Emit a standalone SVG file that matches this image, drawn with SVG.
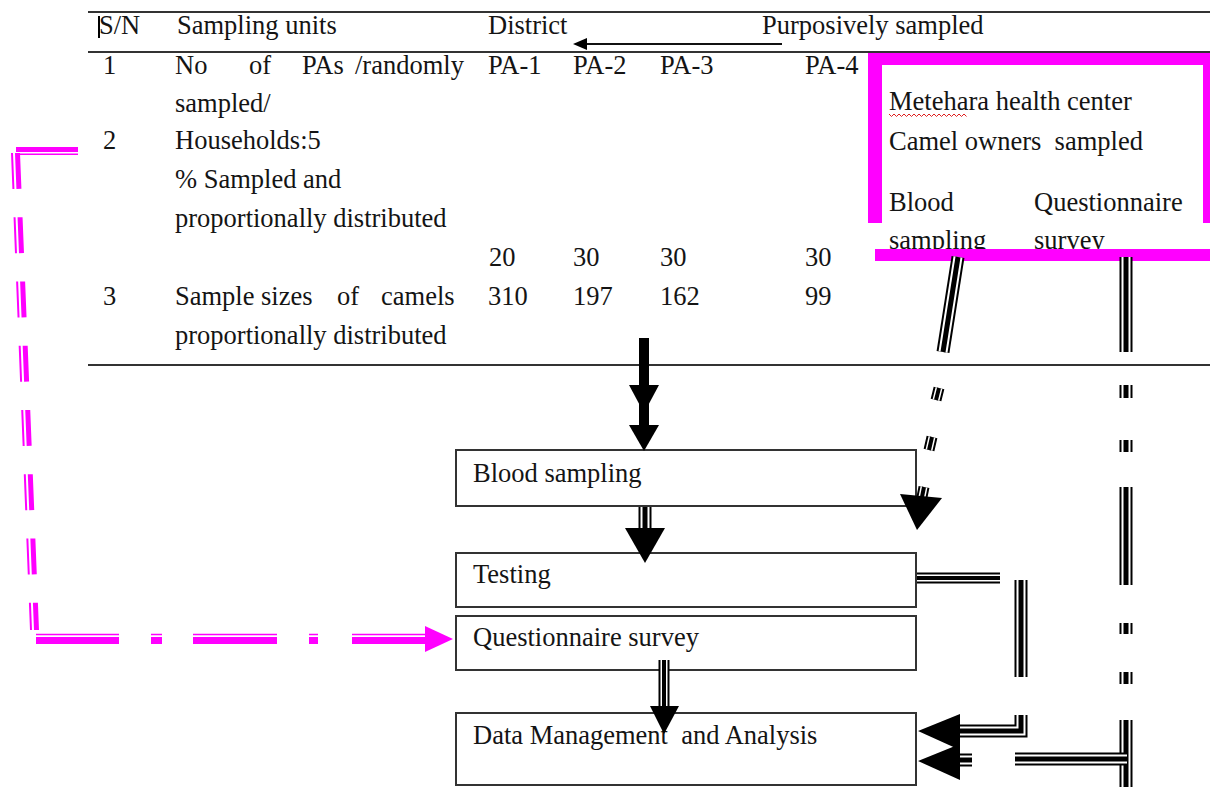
<svg xmlns="http://www.w3.org/2000/svg" width="1210" height="787" viewBox="0 0 1210 787">
<style>
text{font-family:"Liberation Serif","Times New Roman",serif;font-size:26.5px;fill:#141414}
.rule{stroke:#333;stroke-width:2;fill:none}
.box{fill:#fff;stroke:#333;stroke-width:2}
.mg{fill:#ff00ff}
.mgs{fill:none;stroke:#ff00ff}
.tA{fill:none;stroke:#000;stroke-width:13}
.tB{fill:none;stroke:#fff;stroke-width:9}
.tC{fill:none;stroke:#000;stroke-width:5}
.sA{fill:none;stroke:#000;stroke-width:11}
.sB{fill:none;stroke:#fff;stroke-width:7}
.sC{fill:none;stroke:#000;stroke-width:4}
.head{fill:#000}
</style>
<defs>
<path id="cRight" d="M1126 257V352M1126 385V398M1126 440V452M1126 487V585M1126 623V634M1126 672V684M1126 720V787"/>
<path id="cSlant" d="M958 257L943 352"/>
<path id="cSlantDash" d="M939 388L936 400M932 437L929 450M924 487L922 497"/>
<path id="cTest" d="M917 578H1000"/>
<path id="cTestV" d="M1021 580V677"/>
<path id="cTestCorner" d="M1021 715V731H955"/>
<path id="cStub" d="M955 760H972"/>
<path id="cLong" d="M1015 759H1127"/>
<path id="cBT" d="M645 507V532"/>
<path id="cQD" d="M664 660V709"/>
</defs>

<g id="table">
<line class="rule" x1="88" y1="12" x2="1210" y2="12"/>
<line class="rule" x1="88" y1="52" x2="1210" y2="52"/>
<line class="rule" x1="88" y1="365" x2="1210" y2="365"/>
<line x1="99" y1="16" x2="99" y2="38" stroke="#000" stroke-width="2"/>
<text x="99" y="34">S/N</text>
<text x="177" y="34">Sampling units</text>
<text x="488" y="34">District</text>
<text x="762" y="34">Purposively sampled</text>
<text x="103" y="74">1</text>
<text y="74"><tspan x="175">No </tspan><tspan x="249">of </tspan><tspan x="302">PAs </tspan><tspan x="355">/randomly</tspan></text>
<text x="175" y="112">sampled/</text>
<text x="488" y="74">PA-1</text>
<text x="573" y="74">PA-2</text>
<text x="660" y="74">PA-3</text>
<text x="805" y="74">PA-4</text>
<text x="103" y="149">2</text>
<text x="175" y="149">Households:5</text>
<text x="175" y="188">% Sampled and</text>
<text x="175" y="227">proportionally distributed</text>
<text x="489" y="266">20</text>
<text x="573" y="266">30</text>
<text x="660" y="266">30</text>
<text x="805" y="266">30</text>
<text x="103" y="305">3</text>
<text y="305"><tspan x="175">Sample </tspan><tspan x="261">sizes </tspan><tspan x="337">of </tspan><tspan x="381">camels</tspan></text>
<text x="488" y="305">310</text>
<text x="573" y="305">197</text>
<text x="660" y="305">162</text>
<text x="805" y="305">99</text>
<text x="175" y="344">proportionally distributed</text>
</g>

<g id="metehara">
<text x="889" y="110">Metehara health center</text>
<path d="M889 114l2.5 2.5 2.5-2.5 2.5 2.5 2.5-2.5 2.5 2.5 2.5-2.5 2.5 2.5 2.5-2.5 2.5 2.5 2.5-2.5 2.5 2.5 2.5-2.5 2.5 2.5 2.5-2.5 2.5 2.5 2.5-2.5 2.5 2.5 2.5-2.5 2.5 2.5 2.5-2.5 2.5 2.5 2.5-2.5 2.5 2.5 2.5-2.5 2.5 2.5 2.5-2.5 2.5 2.5 2.5-2.5 2.5 2.5 2.5-2.5 2.5 2.5" fill="none" stroke="#e02020" stroke-width="1"/>
<text x="889" y="150" xml:space="preserve">Camel owners  sampled</text>
<text x="889" y="211">Blood</text>
<text x="1034" y="211">Questionnaire</text>
<text x="889" y="249">sampling</text>
<text x="1034" y="249">survey</text>
<rect class="mg" x="868" y="53" width="342" height="12"/>
<rect class="mg" x="868" y="53" width="14" height="170"/>
<rect class="mg" x="1203" y="53" width="7" height="170"/>
<rect class="mg" x="875" y="249" width="335" height="12"/>
</g>

<g id="blood-sampling">
<rect class="box" x="456" y="450" width="460" height="56"/>
<text x="473" y="482">Blood sampling</text>
</g>
<g id="testing">
<rect class="box" x="456" y="553" width="460" height="54"/>
<text x="473" y="583">Testing</text>
</g>
<g id="questionnaire-survey">
<rect class="box" x="456" y="616" width="460" height="54"/>
<text x="473" y="646">Questionnaire survey</text>
</g>
<g id="data-management">
<rect class="box" x="456" y="713" width="460" height="72"/>
<text x="473" y="744" xml:space="preserve">Data Management  and Analysis</text>
</g>

<g id="connectors">
<line x1="782" y1="44" x2="585" y2="44" stroke="#111" stroke-width="2"/>
<polygon class="head" points="573,44 587,38 587,50"/>
<rect x="639" y="338" width="10" height="95" fill="#000"/>
<polygon class="head" points="629,385 659,385 644,413"/>
<polygon class="head" points="629,425 659,425 644,451"/>
<use href="#cBT" class="tA"/><use href="#cBT" class="tB"/><use href="#cBT" class="tC"/>
<polygon class="head" points="625,528 665,528 645,563"/>
<use href="#cQD" class="sA"/><use href="#cQD" class="sB"/><use href="#cQD" class="sC"/>
<polygon class="head" points="650,706 679,706 664,734"/>
<use href="#cRight" class="tA"/><use href="#cRight" class="tB"/><use href="#cRight" class="tC"/>
<use href="#cSlant" class="tA"/><use href="#cSlant" class="tB"/><use href="#cSlant" class="tC"/>
<use href="#cSlantDash" class="sA"/><use href="#cSlantDash" class="sB"/><use href="#cSlantDash" class="sC"/>
<polygon class="head" points="900,494 942,498 917,530"/>
<use href="#cTest" class="sA"/><use href="#cTest" class="sB"/><use href="#cTest" class="sC"/>
<use href="#cTestV" class="tA"/><use href="#cTestV" class="tB"/><use href="#cTestV" class="tC"/>
<use href="#cTestCorner" class="tA"/><use href="#cTestCorner" class="tB"/><use href="#cTestCorner" class="tC"/>
<polygon class="head" points="918,731 960,714 960,750"/>
<use href="#cLong" class="tA"/><use href="#cLong" class="tB"/><use href="#cLong" class="tC"/>
<use href="#cStub" class="tA"/><use href="#cStub" class="tB"/><use href="#cStub" class="tC"/>
<polygon class="head" points="918,761 960,744 960,780"/>
<rect class="mg" x="16" y="147" width="62" height="5"/>
<rect class="mg" x="16" y="153.5" width="62" height="1.5"/>
<path class="mgs" d="M12 153L31 630" stroke-width="2" stroke-dasharray="36 28.3"/>
<path class="mgs" d="M17.5 153L36.5 630" stroke-width="5" stroke-dasharray="36 28.3"/>
<path class="mgs" d="M36 634.5H425" stroke-width="1.5" stroke-dasharray="83 32 11 31 84 32 9 34 73"/>
<path class="mgs" d="M36 640.5H425" stroke-width="7" stroke-dasharray="83 32 11 31 84 32 9 34 73"/>
<polygon class="mg" points="425,626 425,652 453,639"/>
</g>
</svg>
